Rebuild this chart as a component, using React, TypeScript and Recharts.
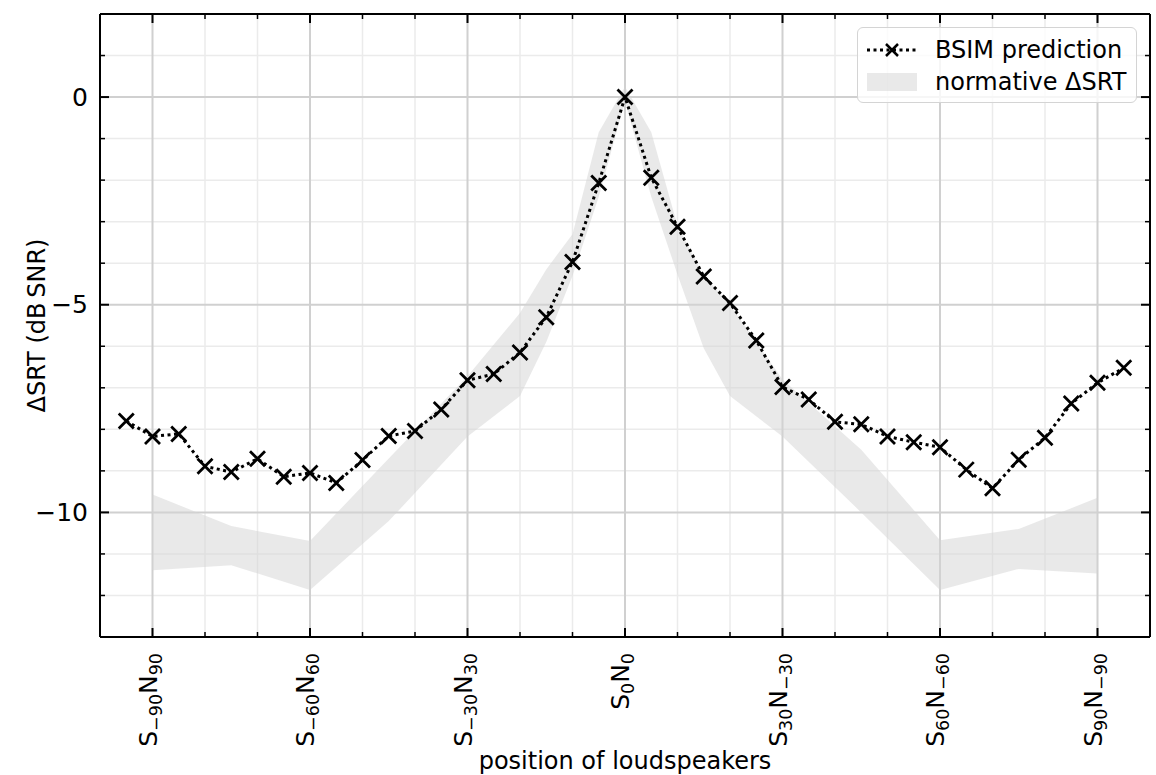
import React from 'react';
import { ComposedChart, Area, Line, XAxis, YAxis, CartesianGrid, Legend } from 'recharts';

// loudspeaker positions (azimuth of S, N is mirrored)
const positions = [-95, -90, -85, -80, -75, -70, -65, -60, -55, -50, -45, -40, -35, -30, -25, -20, -15, -10, -5, 0,
  5, 10, 15, 20, 25, 30, 35, 40, 45, 50, 55, 60, 65, 70, 75, 80, 85, 90, 95];
const bsimPrediction = [-7.80, -8.17, -8.11, -8.89, -9.03, -8.71, -9.14, -9.05, -9.29, -8.74, -8.16, -8.04, -7.52, -6.82,
  -6.67, -6.15, -5.30, -3.97, -2.07, 0, -1.94, -3.12, -4.32, -4.96, -5.86, -6.98, -7.28, -7.82, -7.88, -8.17, -8.31,
  -8.43, -8.97, -9.42, -8.73, -8.20, -7.38, -6.88, -6.52];

// normative SRT band
const normPositions = [-90, -75, -60, -45, -30, -20, -15, -10, -5, 0, 5, 10, 15, 20, 30, 45, 60, 75, 90];
const normLower = [-11.39, -11.27, -11.87, -10.21, -8.17, -7.20, -5.90, -4.30, -2.40, -0.10, -2.40, -4.27, -6.05, -7.20,
  -8.17, -10.00, -11.87, -11.36, -11.47];
const normUpper = [-9.57, -10.33, -10.69, -8.70, -6.72, -5.20, -4.15, -3.30, -0.85, 0.25, -0.85, -3.10, -4.30, -5.00,
  -6.80, -8.49, -10.67, -10.40, -9.65];

const xMajorTicks = [-90, -60, -30, 0, 30, 60, 90];
const xMinorTicks = [-80, -70, -50, -40, -20, -10, 10, 20, 40, 50, 70, 80];
const yMajorTicks = [-10, -5, 0];
const yMinorTicks = [-12, -11, -9, -8, -7, -6, -4, -3, -2, -1, 1];

const xTickLabels: Record<number, string[]> = {
  [-90]: ['S', '−90', 'N', '90'],
  [-60]: ['S', '−60', 'N', '60'],
  [-30]: ['S', '−30', 'N', '30'],
  [0]: ['S', '0', 'N', '0'],
  [30]: ['S', '30', 'N', '−30'],
  [60]: ['S', '60', 'N', '−60'],
  [90]: ['S', '90', 'N', '−90'],
};

const bsimData = positions.map((x, i) => ({ x, bsim: bsimPrediction[i] }));
const normData = normPositions.map((x, i) => ({ x, range: [normLower[i], normUpper[i]] }));

const xTicks = [...xMajorTicks, ...xMinorTicks].sort((a, b) => a - b);
const yTicks = [...yMajorTicks, ...yMinorTicks].sort((a, b) => a - b);

const FONT = '"DejaVu Sans", sans-serif';
const fmtNum = (v: number) => String(v).replace('-', '−');

const BottomTick = ({ x, y, payload }: any) => {
  const v = payload.value;
  const major = xMajorTicks.includes(v);
  const parts = xTickLabels[v];
  return (
    <g>
      <line x1={x} x2={x} y1={y} y2={y - (major ? 9 : 5)} stroke="#000" strokeWidth={major ? 2 : 1.5} />
      {major && parts && (
        <text transform={`translate(${x + 4},${y + 16}) rotate(-90)`} textAnchor="end" fontFamily={FONT} fontSize={25} fill="#000">
          <tspan>{parts[0]}</tspan>
          <tspan fontSize={17.5} dy={5}>{parts[1]}</tspan>
          <tspan dy={-5}>{parts[2]}</tspan>
          <tspan fontSize={17.5} dy={5}>{parts[3]}</tspan>
        </text>
      )}
    </g>
  );
};

const TopTick = ({ x, y, payload }: any) => {
  const major = xMajorTicks.includes(payload.value);
  return <line x1={x} x2={x} y1={y} y2={y + (major ? 9 : 5)} stroke="#000" strokeWidth={major ? 2 : 1.5} />;
};

const LeftTick = ({ x, y, payload }: any) => {
  const v = payload.value;
  const major = yMajorTicks.includes(v);
  return (
    <g>
      <line x1={x} x2={x + (major ? 9 : 5)} y1={y} y2={y} stroke="#000" strokeWidth={major ? 2 : 1.5} />
      {major && (
        <text x={x - 12} y={y} textAnchor="end" dominantBaseline="central" fontFamily={FONT} fontSize={25} fill="#000">
          {fmtNum(v)}
        </text>
      )}
    </g>
  );
};

const RightTick = ({ x, y, payload }: any) => {
  const major = yMajorTicks.includes(payload.value);
  return <line x1={x} x2={x - (major ? 9 : 5)} y1={y} y2={y} stroke="#000" strokeWidth={major ? 2 : 1.5} />;
};

const renderCross = (p: any) => {
  const { cx, cy, index } = p;
  const s = 7.5;
  return (
    <path
      key={`cross-${index}`}
      d={`M${cx - s},${cy - s}L${cx + s},${cy + s}M${cx - s},${cy + s}L${cx + s},${cy - s}`}
      stroke="#000"
      strokeWidth={2.8}
      strokeDasharray="none"
      fill="none"
    />
  );
};

const LegendBox = () => (
  <div
    style={{
      boxSizing: 'border-box',
      width: 280,
      height: 76,
      border: '1.5px solid #d4d4d4',
      borderRadius: 6,
      background: 'rgba(255,255,255,0.8)',
      fontFamily: FONT,
      fontSize: 24,
      color: '#000',
      padding: '6px 0 0 9px',
    }}
  >
    <div style={{ display: 'flex', alignItems: 'center', height: 32 }}>
      <svg width={50} height={20} style={{ marginRight: 18 }}>
        <line x1={0} x2={50} y1={10} y2={10} stroke="#000" strokeWidth={3} strokeDasharray="3 3.5" />
        <path d="M19,4L31,16M19,16L31,4" stroke="#000" strokeWidth={2.5} />
      </svg>
      <span>BSIM prediction</span>
    </div>
    <div style={{ display: 'flex', alignItems: 'center', height: 32 }}>
      <svg width={50} height={20} style={{ marginRight: 18 }}>
        <rect x={0} y={1} width={50} height={18} fill="#d3d3d3" fillOpacity={0.5} />
      </svg>
      <span>normative ΔSRT</span>
    </div>
  </div>
);

export default function App() {
  return (
    <div style={{ position: 'absolute', left: 0, top: 0, width: 1156, height: 775, background: '#fff' }}>
      <ComposedChart width={1156} height={775} margin={{ top: 13, right: 5, bottom: 0, left: 0 }}>
        <CartesianGrid
          verticalValues={xMinorTicks}
          horizontalValues={yMinorTicks}
          stroke="#ebebeb"
          strokeWidth={1.5}
        />
        <CartesianGrid
          verticalValues={xMajorTicks}
          horizontalValues={yMajorTicks}
          stroke="#d0d0d0"
          strokeWidth={2}
        />
        <XAxis
          dataKey="x"
          type="number"
          domain={[-100, 100]}
          ticks={xTicks}
          interval={0}
          height={138}
          tickSize={0}
          tickMargin={0}
          tickLine={false}
          tick={<BottomTick />}
          axisLine={{ stroke: '#000', strokeWidth: 2 }}
          allowDataOverflow
          label={{
            content: ({ viewBox }: any) => (
              <text
                x={viewBox.x + viewBox.width / 2}
                y={viewBox.y + 124}
                textAnchor="middle"
                dominantBaseline="central"
                fontFamily={FONT}
                fontSize={24}
                fill="#000"
              >
                position of loudspeakers
              </text>
            ),
          }}
        />
        <XAxis
          xAxisId="top"
          orientation="top"
          dataKey="x"
          type="number"
          domain={[-100, 100]}
          ticks={xTicks}
          interval={0}
          height={1}
          tickSize={0}
          tickMargin={0}
          tickLine={false}
          tick={<TopTick />}
          axisLine={{ stroke: '#000', strokeWidth: 2 }}
          allowDataOverflow
        />
        <YAxis
          type="number"
          domain={[-13, 2]}
          ticks={yTicks}
          interval={0}
          width={100}
          tickSize={0}
          tickMargin={0}
          tickLine={false}
          tick={<LeftTick />}
          axisLine={{ stroke: '#000', strokeWidth: 2 }}
          allowDataOverflow
          label={{
            content: ({ viewBox }: any) => {
              const cx = viewBox.x + 37;
              const cy = viewBox.y + viewBox.height / 2;
              return (
                <text
                  x={cx}
                  y={cy}
                  transform={`rotate(-90, ${cx}, ${cy})`}
                  textAnchor="middle"
                  dominantBaseline="central"
                  fontFamily={FONT}
                  fontSize={24}
                  fill="#000"
                >
                  {'ΔSRT (dB\u2009SNR)'}
                </text>
              );
            },
          }}
        />
        <YAxis
          yAxisId="right"
          orientation="right"
          type="number"
          domain={[-13, 2]}
          ticks={yTicks}
          interval={0}
          width={1}
          tickSize={0}
          tickMargin={0}
          tickLine={false}
          tick={<RightTick />}
          axisLine={{ stroke: '#000', strokeWidth: 2 }}
          allowDataOverflow
        />
        <Area
          data={normData}
          dataKey="range"
          type="linear"
          stroke="none"
          fill="#d3d3d3"
          fillOpacity={0.5}
          activeDot={false}
          isAnimationActive={false}
        />
        <Line
          data={bsimData}
          dataKey="bsim"
          type="linear"
          stroke="#000"
          strokeWidth={3}
          strokeDasharray="3 3.5"
          dot={renderCross}
          activeDot={false}
          isAnimationActive={false}
        />
        <Legend
          layout="vertical"
          align="center"
          verticalAlign="middle"
          content={<LegendBox />}
          wrapperStyle={{ top: 27, left: 857, width: 280, height: 76 }}
        />
      </ComposedChart>
    </div>
  );
}
